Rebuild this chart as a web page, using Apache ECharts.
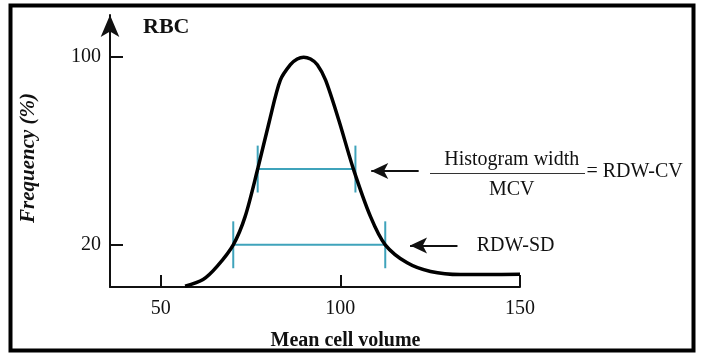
<!DOCTYPE html>
<html><head><meta charset="utf-8">
<script src="https://cdn.jsdelivr.net/npm/echarts@6/dist/echarts.min.js"></script>
<style>html,body{margin:0;padding:0;background:#fff}#c{width:714px;height:362px}</style>
</head><body><div id="c"></div>
<script>
// Curve (mean cell volume vs frequency %)
const curveX = [56.8, 61.8, 65.7, 70.2, 73.5, 77.0, 80.3, 83.3, 86.1, 88.0, 89.8, 91.7, 93.6, 95.9, 99.6, 103.6, 108.4, 112.5, 118.6, 125.1, 133.4, 141, 150];
const curveY = [2.3, 5.2, 10.8, 20, 32, 52.3, 73, 90.2, 96.8, 99.2, 100, 99.2, 96.8, 90.2, 73, 52.5, 32, 20, 12.3, 8.6, 7.3, 7.3, 7.4];
const xTicks = [50, 100, 150];
const yTicks = [20, 100];
// [left x, right x, y] of the width bars
const cvBar = [77.0, 104.2, 52.3];
const sdBar = [70.2, 112.5, 20];
const barTickHalf = 10;
// [tail x, tip x, y] of the pointer arrows
const cvArrow = [121.8, 108.6, 51.5];
const sdArrow = [132.6, 119.4, 19.7];

const FONT = '"Liberation Serif", "Times New Roman", serif';
const CYAN = '#3fa3bb';
const TXT = '#111';

function barSeries(bar) {
  const [x1, x2, y] = bar;
  const style = { color: CYAN, width: 2 };
  const mk = d => ({ type: 'line', data: d, symbol: 'none', lineStyle: style, silent: true, z: 2 });
  return [
    mk([[x1, y], [x2, y]]),
    mk([[x1, y - barTickHalf], [x1, y + barTickHalf]]),
    mk([[x2, y - barTickHalf], [x2, y + barTickHalf]])
  ];
}
function arrowLine(a) {
  return [{ coord: [a[0], a[2]], symbol: 'none' }, { coord: [a[1], a[2]], symbol: 'arrow' }];
}

const chart = echarts.init(document.getElementById('c'));
chart.setOption({
  animation: false,
  backgroundColor: '#fff',
  grid: { left: 110, right: 194, top: 15, bottom: 75 },
  xAxis: {
    type: 'value', min: 35.9, max: 150,
    axisLine: { show: true, lineStyle: { color: '#111', width: 2 } },
    axisTick: { show: true, inside: true, length: 12, customValues: xTicks, lineStyle: { color: '#111', width: 2 } },
    axisLabel: { customValues: xTicks, fontSize: 20, fontFamily: FONT, color: TXT, margin: 12 },
    splitLine: { show: false }
  },
  yAxis: {
    type: 'value', min: 2, max: 118,
    axisLine: { show: true, symbol: ['none', 'arrow'], symbolSize: [14, 22], symbolOffset: [0, 0], lineStyle: { color: '#111', width: 2 } },
    axisTick: { show: true, inside: true, length: 13, customValues: yTicks, lineStyle: { color: '#111', width: 2 } },
    axisLabel: { customValues: yTicks, fontSize: 20, fontFamily: FONT, color: TXT, margin: 9 },
    splitLine: { show: false }
  },
  series: [
    ...barSeries(cvBar),
    ...barSeries(sdBar),
    {
      type: 'line', data: curveX.map((x, i) => [x, curveY[i]]),
      symbol: 'none', smooth: 0.3,
      lineStyle: { color: '#000', width: 3.5 }, z: 3,
      markLine: {
        silent: true, animation: false,
        symbolSize: [12, 17],
        label: { show: false },
        lineStyle: { color: '#111', width: 2, type: 'solid' },
        data: [arrowLine(cvArrow), arrowLine(sdArrow)]
      }
    }
  ],
  graphic: [
    { type: 'rect', shape: { x: 10.5, y: 5.5, width: 683, height: 345 }, style: { fill: 'none', stroke: '#000', lineWidth: 4 } },
    { type: 'text', x: 143, y: 27, style: { text: 'RBC', font: 'bold 22px ' + FONT, fill: TXT, textAlign: 'left', textVerticalAlign: 'middle' } },
    { type: 'text', x: 29, y: 158, rotation: Math.PI / 2, style: { text: 'Frequency (%)', font: 'italic bold 21px ' + FONT, fill: TXT, textAlign: 'center', textVerticalAlign: 'middle' } },
    { type: 'text', x: 345.5, y: 341, style: { text: 'Mean cell volume', font: 'bold 20px ' + FONT, fill: TXT, textAlign: 'center', textVerticalAlign: 'middle' } },
    { type: 'text', x: 511.7, y: 160, style: { text: 'Histogram width', font: '20px ' + FONT, fill: TXT, textAlign: 'center', textVerticalAlign: 'middle' } },
    { type: 'line', shape: { x1: 430, y1: 173.5, x2: 585, y2: 173.5 }, style: { stroke: '#333', lineWidth: 1.2 } },
    { type: 'text', x: 511.7, y: 190, style: { text: 'MCV', font: '20px ' + FONT, fill: TXT, textAlign: 'center', textVerticalAlign: 'middle' } },
    { type: 'text', x: 586.5, y: 171.5, style: { text: '= RDW-CV', font: '20px ' + FONT, fill: TXT, textAlign: 'left', textVerticalAlign: 'middle' } },
    { type: 'text', x: 476.7, y: 246, style: { text: 'RDW-SD', font: '20px ' + FONT, fill: TXT, textAlign: 'left', textVerticalAlign: 'middle' } }
  ]
});
</script>
</body></html>
